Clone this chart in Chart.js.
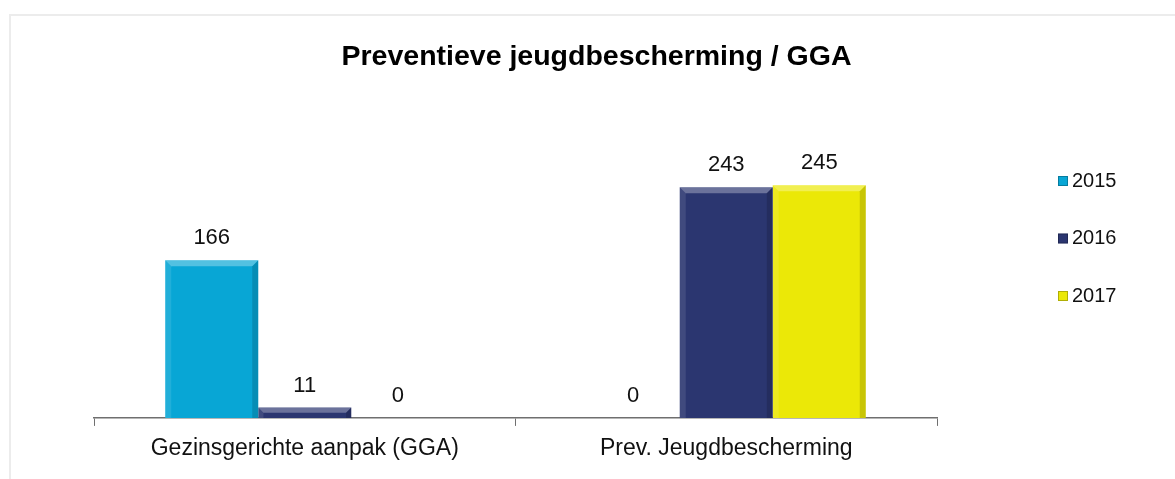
<!DOCTYPE html>
<html>
<head>
<meta charset="utf-8">
<script src="https://cdn.jsdelivr.net/npm/chart.js@4/dist/chart.umd.min.js"></script>
<style>
  html, body { margin: 0; padding: 0; overflow: hidden; background: #fff; }
  #wrap { position: relative; width: 1175px; height: 479px; }
  #frame {
    position: absolute; left: 9px; top: 14px; right: -10px; bottom: -10px;
    border-top: 2px solid #ececec; border-left: 2px solid #ececec;
  }
  canvas { position: absolute; left: 0; top: 0; }
</style>
</head>
<body>
<div id="wrap">
  <div id="frame"></div>
  <canvas id="chart" width="1175" height="479"></canvas>
</div>
<script>
const chartTitle = "Preventieve jeugdbescherming / GGA";
const categories = ["Gezinsgerichte aanpak (GGA)", "Prev. Jeugdbescherming"];
const seriesNames = ["2015", "2016", "2017"];
const values2015 = [166, 0];
const values2016 = [11, 243];
const values2017 = [0, 245];
const seriesColors = ["#08a6d5", "#2b3670", "#ebe807"];

const fontFamily = "'Liberation Sans', Arial, sans-serif";

// bevelled bars, value labels, title and legend
const decorPlugin = {
  id: "decor",
  afterDatasetsDraw(chart) {
    const ctx = chart.ctx;
    const area = chart.chartArea;

    chart.data.datasets.forEach((ds, di) => {
      const meta = chart.getDatasetMeta(di);
      meta.data.forEach((bar, i) => {
        const l = bar.x - bar.width / 2;
        const r = bar.x + bar.width / 2;
        const t = bar.y;
        const b = bar.base;
        const h = b - t;
        if (h > 1) {
          const bv = Math.min(6, h / 2);
          ctx.save();
          ctx.fillStyle = "rgba(255,255,255,0.3)";
          ctx.beginPath();
          ctx.moveTo(l, t); ctx.lineTo(r, t); ctx.lineTo(r - bv, t + bv); ctx.lineTo(l + bv, t + bv);
          ctx.closePath(); ctx.fill();
          ctx.fillStyle = "rgba(255,255,255,0.1)";
          ctx.beginPath();
          ctx.moveTo(l, t); ctx.lineTo(l + bv, t + bv); ctx.lineTo(l + bv, b); ctx.lineTo(l, b);
          ctx.closePath(); ctx.fill();
          ctx.fillStyle = "rgba(0,0,0,0.15)";
          ctx.beginPath();
          ctx.moveTo(r, t); ctx.lineTo(r - bv, t + bv); ctx.lineTo(r - bv, b); ctx.lineTo(r, b);
          ctx.closePath(); ctx.fill();
          ctx.restore();
        }

        ctx.save();
        ctx.fillStyle = "#111";
        ctx.font = "22px " + fontFamily;
        ctx.textAlign = "center";
        ctx.textBaseline = "middle";
        ctx.fillText(String(ds.data[i]), bar.x, t - 22);
        ctx.restore();
      });
    });

    ctx.save();
    ctx.fillStyle = "#000";
    ctx.font = "bold 28.5px " + fontFamily;
    ctx.textAlign = "center";
    ctx.textBaseline = "middle";
    ctx.fillText(chartTitle, chart.width / 2 + 9, 57);
    ctx.restore();

    chart.data.datasets.forEach((ds, di) => {
      const y = area.top + 48 + di * 57.5;
      const x = area.right + 121;
      ctx.save();
      ctx.fillStyle = ds.backgroundColor;
      ctx.fillRect(x, y - 5, 10, 10);
      ctx.strokeStyle = "rgba(0,0,0,0.25)";
      ctx.strokeRect(x + 0.5, y - 4.5, 9, 9);
      ctx.fillStyle = "#111";
      ctx.font = "20px " + fontFamily;
      ctx.textAlign = "left";
      ctx.textBaseline = "middle";
      ctx.fillText(ds.label, x + 14, y);
      ctx.restore();
    });
  }
};

const seriesValues = [values2015, values2016, values2017];

new Chart(document.getElementById("chart"), {
  type: "bar",
  data: {
    labels: categories,
    datasets: seriesNames.map((name, i) => ({
      label: name,
      data: seriesValues[i],
      backgroundColor: seriesColors[i],
      borderWidth: 0,
      categoryPercentage: 0.662,
      barPercentage: 1
    }))
  },
  options: {
    responsive: false,
    animation: false,
    layout: { padding: { left: 94, right: 238, top: 133, bottom: 7.5 } },
    plugins: {
      legend: { display: false },
      title: { display: false },
      tooltip: { enabled: false }
    },
    scales: {
      y: { display: false, min: 0, max: 300 },
      x: {
        grid: { drawOnChartArea: false, drawTicks: true, tickLength: 8, color: "#6f6f6f" },
        border: { color: "#6f6f6f", width: 1.5 },
        ticks: { color: "#111", padding: 9, font: { family: fontFamily, size: 23 } }
      }
    }
  },
  plugins: [decorPlugin]
});
</script>
</body>
</html>
